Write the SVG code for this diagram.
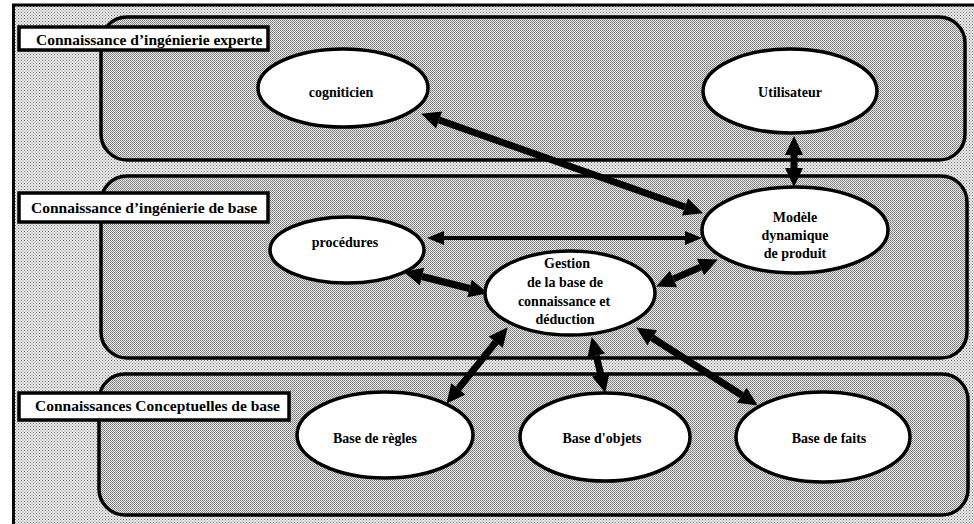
<svg xmlns="http://www.w3.org/2000/svg" width="974" height="524" viewBox="0 0 974 524">
<defs>
<pattern id="dotsLight" width="3" height="3" patternUnits="userSpaceOnUse">
<rect width="3" height="3" fill="#ececec"/>
<rect width="1" height="1" fill="#707070"/>
<rect x="1.5" y="1.5" width="1" height="1" fill="#8a8a8a"/>
</pattern>
<pattern id="dotsDark" width="2" height="2" patternUnits="userSpaceOnUse">
<rect width="2" height="2" fill="#e8e8e8"/>
<rect width="1" height="1" fill="#7a7a7a"/>
<rect x="1" y="1" width="1" height="1" fill="#8c8c8c"/>
</pattern>
<marker id="ah" markerUnits="userSpaceOnUse" markerWidth="20" markerHeight="18" refX="0" refY="9" orient="auto-start-reverse" overflow="visible">
<path d="M0,0 L19,9 L0,18 z" fill="#000"/>
</marker>
<marker id="ahs" markerUnits="userSpaceOnUse" markerWidth="18" markerHeight="14" refX="0" refY="7" orient="auto-start-reverse" overflow="visible">
<path d="M0,0 L17,7 L0,14 z" fill="#000"/>
</marker>
</defs>
<style>
.layer{fill:url(#dotsDark);stroke:#000;stroke-width:3.5}
.lbl{fill:#fff;stroke:#000;stroke-width:3.5}
.lbltxt{font-family:"Liberation Serif",serif;font-weight:bold;font-size:15.5px;fill:#000}
.node{fill:#fff;stroke:#000;stroke-width:3.5}
.ntxt{font-family:"Liberation Serif",serif;font-weight:bold;font-size:14px;fill:#000;text-anchor:middle}
.thick{stroke:#000;stroke-width:7;fill:none;marker-start:url(#ah);marker-end:url(#ah)}
.thin{stroke:#000;stroke-width:4;fill:none;marker-start:url(#ahs);marker-end:url(#ahs)}
</style>
<rect width="974" height="524" fill="#fff"/>
<rect x="13" y="5" width="961" height="519" fill="url(#dotsLight)"/>
<path d="M13.5,524 V5 H974" fill="none" stroke="#000" stroke-width="3"/>

<g id="layer-expert">
<rect class="layer" x="101" y="17" width="864" height="143" rx="26"/>
<rect class="lbl" x="19" y="27" width="249" height="23"/>
<text class="lbltxt" x="36" y="45">Connaissance d’ingénierie experte</text>
</g>
<g id="layer-base">
<rect class="layer" x="101" y="176" width="866" height="182" rx="26"/>
<rect class="lbl" x="19" y="193" width="249" height="29"/>
<text class="lbltxt" x="31" y="213">Connaissance d’ingénierie de base</text>
</g>
<g id="layer-concept">
<rect class="layer" x="99" y="374" width="869" height="141" rx="26"/>
<rect class="lbl" x="19" y="393" width="270" height="27"/>
<text class="lbltxt" x="35" y="411">Connaissances Conceptuelles de base</text>
</g>

<g id="connectors">
<line class="thick" x1="439" y1="120" x2="685" y2="207"/>
<line class="thick" x1="794" y1="155" x2="794" y2="168"/>
<line class="thin" x1="444" y1="238" x2="685" y2="238"/>
<line class="thick" x1="422" y1="276.5" x2="469.6" y2="288.5"/>
<line class="thick" x1="700.5" y1="267.1" x2="673.5" y2="278.9"/>
<line class="thick" x1="495.8" y1="342.1" x2="458.3" y2="388.9"/>
<line class="thick" x1="596.2" y1="355.5" x2="600.8" y2="374.5"/>
<line class="thick" x1="652.2" y1="337.7" x2="741.8" y2="395.3"/>
</g>

<g id="cogniticien">
<ellipse class="node" cx="343" cy="88" rx="85" ry="39"/>
<text class="ntxt" x="341" y="97">cogniticien</text>
</g>
<g id="utilisateur">
<ellipse class="node" cx="790" cy="91" rx="87" ry="42"/>
<text class="ntxt" x="790" y="97">Utilisateur</text>
</g>
<g id="procedures">
<ellipse class="node" cx="347" cy="250" rx="77" ry="33"/>
<text class="ntxt" x="345" y="247">procédures</text>
</g>
<g id="modele">
<ellipse class="node" cx="795" cy="230" rx="93" ry="43"/>
<text class="ntxt" x="795" y="222">Modèle</text>
<text class="ntxt" x="795" y="240">dynamique</text>
<text class="ntxt" x="795" y="258">de produit</text>
</g>
<g id="gestion">
<ellipse class="node" cx="570" cy="293" rx="85" ry="42"/>
<text class="ntxt" x="567" y="268">Gestion</text>
<text class="ntxt" x="565" y="287">de la base de</text>
<text class="ntxt" x="564" y="306">connaissance et</text>
<text class="ntxt" x="565" y="324">déduction</text>
</g>
<g id="base-regles">
<ellipse class="node" cx="385" cy="435" rx="88" ry="43"/>
<text class="ntxt" x="375" y="443">Base de règles</text>
</g>
<g id="base-objets">
<ellipse class="node" cx="605" cy="437" rx="85" ry="44"/>
<text class="ntxt" x="602" y="443">Base d'objets</text>
</g>
<g id="base-faits">
<ellipse class="node" cx="823" cy="437" rx="87" ry="45"/>
<text class="ntxt" x="829" y="443">Base de faits</text>
</g>
</svg>
